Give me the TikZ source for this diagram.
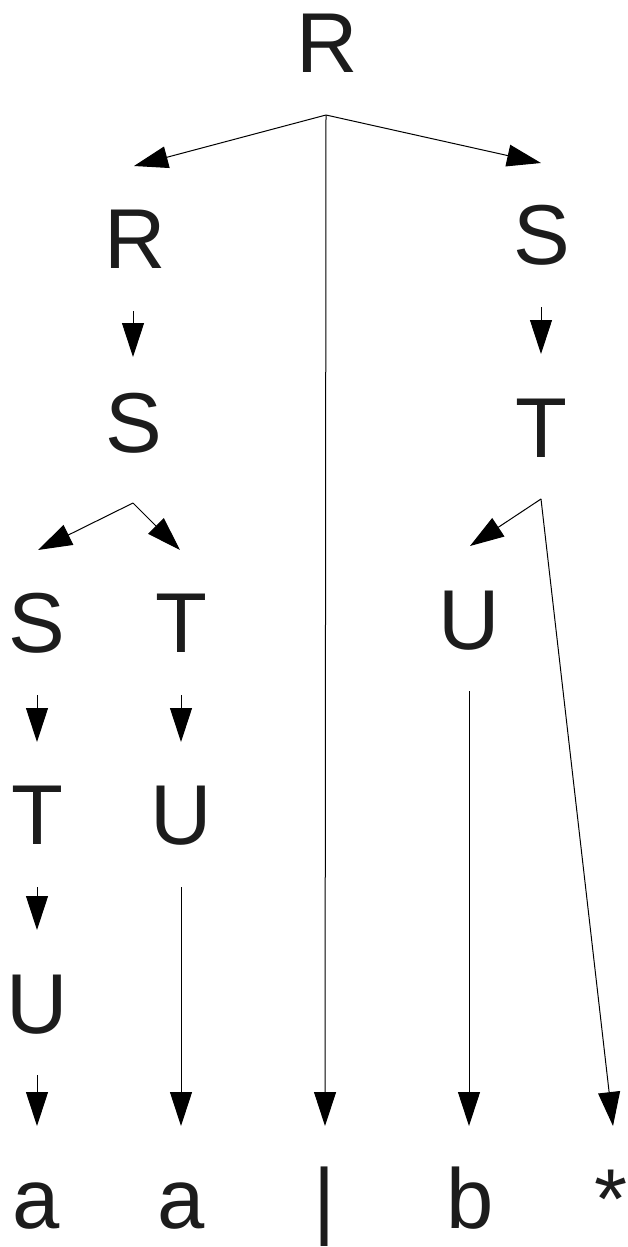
\documentclass[tikz,border=0pt]{standalone}
\usepackage{fontspec}
\setmainfont{Liberation Sans}
\usetikzlibrary{arrows.meta}
\definecolor{ink}{HTML}{1C1C1C}
\tikzset{
  sym/.style={anchor=base, inner sep=0pt, text=ink, font=\fontsize{85}{85}\selectfont},
  edge/.style={draw=black, line width=1pt, -{Triangle[length=34pt,width=22pt]}},
}
\begin{document}
\begin{tikzpicture}[x=1pt,y=-1pt]
\useasboundingbox (0,0) rectangle (628,1247);
% symbols
\node[sym] (R0) at (327,73) {R};
\node[sym] (R1) at (135,268) {R};
\node[sym] (S1) at (542,264) {S};
\node[sym] (S2) at (134,452) {S};
\node[sym] (T2) at (541,457) {T};
\node[sym] (S3) at (37,652) {S};
\node[sym] (T3) at (181,652) {T};
\node[sym] (U3) at (469,649) {U};
\node[sym] (T4) at (37,844) {T};
\node[sym] (U4) at (181,844) {U};
\node[sym] (U5) at (37,1033) {U};
\node[sym] (a1) at (36,1228) {a};
\node[sym] (a2) at (181,1228) {a};
\node[sym] (bar) at (325,1228) {|};
\node[sym] (b) at (470,1228) {b};
\node[sym] (star) at (611,1228) {*};
% connector points
\coordinate (pR0) at (326,115);
\coordinate (iR1) at (134,166);
\coordinate (iS1) at (541,163);
\coordinate (iBar) at (325,1126);
\coordinate (oR1) at (133,311);
\coordinate (iS2) at (133,357);
\coordinate (oS1) at (541,307);
\coordinate (iT2) at (541,354);
\coordinate (pS2) at (133,503);
\coordinate (iS3) at (38,550);
\coordinate (iT3) at (180,550);
\coordinate (pT2) at (541,499);
\coordinate (iU3) at (470,546);
\coordinate (iStar) at (613,1126);
\coordinate (oS3) at (37,695);
\coordinate (iT4) at (37,742);
\coordinate (oT3) at (181,695);
\coordinate (iU4) at (181,742);
\coordinate (oU3) at (469,691);
\coordinate (iB) at (469,1126);
\coordinate (oT4) at (37,887);
\coordinate (iU5) at (37,930);
\coordinate (oU4) at (181,887);
\coordinate (iA2) at (181,1126);
\coordinate (oU5) at (37,1075);
\coordinate (iA1) at (37,1126);
% connectors
\draw[edge] (pR0) -- (iR1);
\draw[edge] (pR0) -- (iS1);
\draw[edge] (pR0) -- (iBar);
\draw[edge] (oR1) -- (iS2);
\draw[edge] (oS1) -- (iT2);
\draw[edge] (pS2) -- (iS3);
\draw[edge] (pS2) -- (iT3);
\draw[edge] (pT2) -- (iU3);
\draw[edge] (pT2) -- (iStar);
\draw[edge] (oS3) -- (iT4);
\draw[edge] (oT3) -- (iU4);
\draw[edge] (oU3) -- (iB);
\draw[edge] (oT4) -- (iU5);
\draw[edge] (oU4) -- (iA2);
\draw[edge] (oU5) -- (iA1);
\end{tikzpicture}
\end{document}
